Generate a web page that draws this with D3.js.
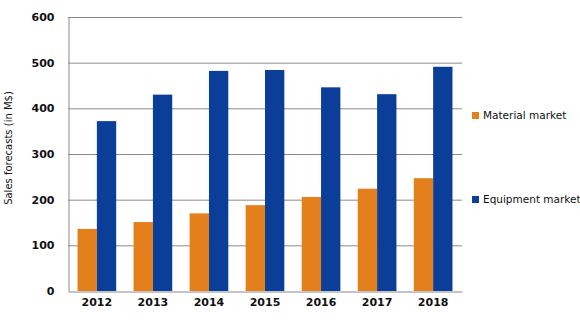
<!DOCTYPE html>
<html><head><meta charset="utf-8">
<script src="https://cdn.jsdelivr.net/npm/d3@7"></script>
<style>body{margin:0;background:#fff}svg{display:block}</style>
</head><body><svg id="c" width="580" height="327"></svg>
<script>
const years = ["2012","2013","2014","2015","2016","2017","2018"];
const material = [136,151,170,188,206,224,247];
const equipment = [372,430,482,484,446,431,491];
const seriesNames = ["Material market","Equipment market"];
const colors = ["#E3801C","#0B3E98"];
const yTicks = [0,100,200,300,400,500,600];

const svg = d3.select("#c");
const m = {l:68, r:462, t:17, b:291};
const x = d3.scaleBand().domain(years).range([m.l, m.r]).paddingInner(0.31).paddingOuter(0.17);
const xs = d3.scaleBand().domain([0,1]).range([0, x.bandwidth()]);
const y = d3.scaleLinear().domain([0,600]).range([m.b, m.t]);

// gridlines
svg.append("g").selectAll("line").data(yTicks.filter(d=>d>0)).join("line")
  .attr("x1", m.l).attr("x2", m.r).attr("y1", d=>y(d)+0.5).attr("y2", d=>y(d)+0.5)
  .attr("stroke","#8a8a8a").attr("stroke-width",1);

const data = years.map((yr,i)=>({yr, vals:[material[i], equipment[i]]}));
svg.append("g").selectAll("g").data(data).join("g")
  .attr("transform", d=>`translate(${x(d.yr)},0)`)
  .selectAll("rect").data(d=>d.vals.map((v,k)=>({v,k}))).join("rect")
  .attr("x", d=>xs(d.k)).attr("width", xs.bandwidth())
  .attr("y", d=>y(d.v)).attr("height", d=>y(0)-y(d.v))
  .attr("fill", d=>colors[d.k]);

// axes
const ya = svg.append("g").attr("transform",`translate(${m.l+0.5},0)`)
  .call(d3.axisLeft(y).tickValues(yTicks).tickSize(0).tickPadding(14));
ya.select(".domain").attr("stroke","#8a8a8a");
ya.selectAll("text").attr("font-family","DejaVu Sans").attr("font-weight","bold").attr("font-size",11).attr("fill","#111");

const xa = svg.append("g").attr("transform",`translate(0,${m.b+0.5})`)
  .call(d3.axisBottom(x).tickSize(0).tickPadding(7));
xa.select(".domain").attr("stroke","#8a8a8a");
xa.selectAll("text").attr("font-family","DejaVu Sans").attr("font-weight","bold").attr("font-size",11).attr("fill","#111");

// y title
svg.append("text").attr("transform","translate(12,148) rotate(-90)")
  .attr("text-anchor","middle").attr("font-family","DejaVu Sans").attr("font-size",10).attr("fill","#111")
  .text("Sales forecasts (in M$)");

// legend
const legY = [112,196];
const lg = svg.append("g").selectAll("g").data(seriesNames).join("g")
  .attr("transform",(d,i)=>`translate(472,${legY[i]})`);
lg.append("rect").attr("width",7).attr("height",7).attr("fill",(d,i)=>colors[i]);
lg.append("text").attr("x",11).attr("y",7).attr("font-family","DejaVu Sans").attr("font-size",10.5).attr("fill","#111").text(d=>d);
</script></body></html>
